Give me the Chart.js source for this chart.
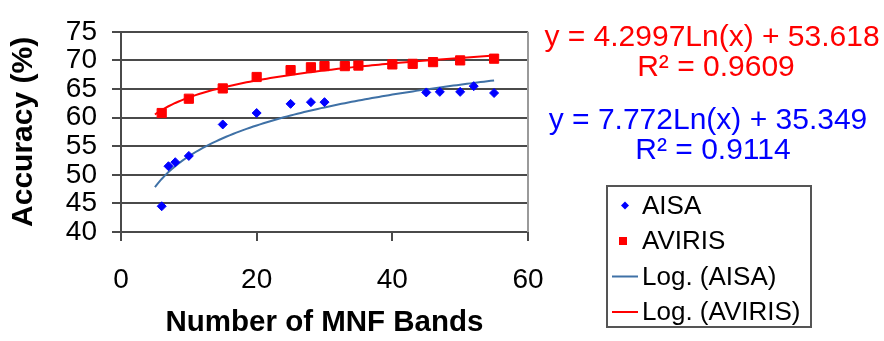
<!DOCTYPE html>
<html>
<head>
<meta charset="utf-8">
<script src="https://cdn.jsdelivr.net/npm/chart.js@4"></script>
<style>
  html, body { margin: 0; padding: 0; background: #fff; }
  #wrap { position: relative; width: 884px; height: 341px; }
</style>
</head>
<body>
<div id="wrap"><canvas id="accChart"></canvas></div>
<script>
// MNF band counts and classification accuracy for each sensor
const aisaBands = [6, 7, 8, 10, 15, 20, 25, 28, 30, 45, 47, 50, 52, 55];
const aisaAcc = [44.5, 51.5, 52.2, 53.3, 58.8, 60.8, 62.4, 62.7, 62.7, 64.4, 64.5, 64.5, 65.5, 64.3];

const avirisBands = [6, 10, 15, 20, 25, 28, 30, 33, 35, 40, 43, 46, 50, 55];
const avirisAcc = [60.8, 63.3, 65.1, 67.1, 68.3, 68.8, 69.0, 69.0, 69.1, 69.3, 69.4, 69.7, 70.0, 70.3];

// log trendline coefficients: y = a*ln(x) + b
const aisaFit = { a: 7.772, b: 35.349, r2: "0.9114" };
const avirisFit = { a: 4.2997, b: 53.618, r2: "0.9609" };
const trendFrom = 5, trendTo = 55;

const yTicks = [40, 45, 50, 55, 60, 65, 70, 75];
const xTicks = [0, 20, 40, 60];

const FONT = "'Liberation Sans', Arial, sans-serif";
const BLUE = "#0000ff";
const RED = "#ff0000";
const TREND_BLUE = "#3f71a6";
const GRID = "#4a4a4a";

function trendPoints(fit) {
  const pts = [];
  for (let x = trendFrom; x <= trendTo + 1e-9; x += 0.5) {
    pts.push({ x: x, y: fit.a * Math.log(x) + fit.b });
  }
  return pts;
}

function toPoints(xs, ys) {
  return xs.map((x, i) => ({ x: x, y: ys[i] }));
}

// equations, plot border and legend box are drawn on top of the chart
const extras = {
  id: "extras",
  afterDraw(chart) {
    const ctx = chart.ctx;
    const area = chart.chartArea;
    ctx.save();

    // right edge of plot area
    ctx.strokeStyle = "#9a9a9a";
    ctx.lineWidth = 2;
    ctx.beginPath();
    ctx.moveTo(area.right, area.top);
    ctx.lineTo(area.right, area.bottom);
    ctx.stroke();

    // trendline equations
    ctx.textAlign = "center";
    ctx.textBaseline = "middle";
    ctx.font = "30px " + FONT;
    ctx.fillStyle = RED;
    ctx.fillText("y = " + avirisFit.a + "Ln(x) + " + avirisFit.b, 712, 38);
    ctx.fillText("R\u00b2 = " + avirisFit.r2, 716, 68);
    ctx.fillStyle = BLUE;
    ctx.fillText("y = " + aisaFit.a + "Ln(x) + " + aisaFit.b, 708, 121);
    ctx.fillText("R\u00b2 = " + aisaFit.r2, 713, 151);

    // legend
    ctx.strokeStyle = "#555";
    ctx.lineWidth = 2;
    ctx.strokeRect(607, 186, 204, 141);
    const rows = [205.5, 241, 276.5, 312];
    const labels = ["AISA", "AVIRIS", "Log. (AISA)", "Log. (AVIRIS)"];

    ctx.fillStyle = BLUE;
    ctx.beginPath();
    ctx.moveTo(625, rows[0] - 4);
    ctx.lineTo(629, rows[0]);
    ctx.lineTo(625, rows[0] + 4);
    ctx.lineTo(621, rows[0]);
    ctx.closePath();
    ctx.fill();

    ctx.fillStyle = RED;
    ctx.fillRect(619, rows[1] - 4, 8, 8);

    ctx.lineWidth = 2;
    ctx.strokeStyle = TREND_BLUE;
    ctx.beginPath();
    ctx.moveTo(612, rows[2]);
    ctx.lineTo(638, rows[2]);
    ctx.stroke();
    ctx.strokeStyle = RED;
    ctx.beginPath();
    ctx.moveTo(612, rows[3]);
    ctx.lineTo(638, rows[3]);
    ctx.stroke();

    ctx.fillStyle = "#000";
    ctx.textAlign = "left";
    ctx.font = "26px " + FONT;
    labels.forEach((t, i) => ctx.fillText(t, 642, rows[i] + 1));

    ctx.restore();
  }
};

const ctx = document.getElementById("accChart").getContext("2d");
const accChart = new Chart(ctx, {
  type: "scatter",
  data: {
    datasets: [
      {
        label: "AISA",
        data: toPoints(aisaBands, aisaAcc),
        pointStyle: "rectRot",
        pointRadius: 4.5,
        backgroundColor: BLUE,
        borderColor: BLUE,
        borderWidth: 1
      },
      {
        label: "AVIRIS",
        data: toPoints(avirisBands, avirisAcc),
        pointStyle: "rect",
        pointRadius: 6.5,
        backgroundColor: RED,
        borderColor: RED,
        borderWidth: 1
      },
      {
        label: "Log. (AISA)",
        type: "line",
        data: trendPoints(aisaFit),
        showLine: true,
        pointRadius: 0,
        borderColor: TREND_BLUE,
        borderWidth: 2,
        fill: false
      },
      {
        label: "Log. (AVIRIS)",
        type: "line",
        data: trendPoints(avirisFit),
        showLine: true,
        pointRadius: 0,
        borderColor: RED,
        borderWidth: 2,
        fill: false
      }
    ]
  },
  options: {
    responsive: true,
    maintainAspectRatio: false,
    animation: false,
    layout: { padding: { left: 0, top: 25, right: 356, bottom: 0 } },
    plugins: {
      legend: { display: false },
      tooltip: { enabled: false }
    },
    scales: {
      x: {
        type: "linear",
        min: 0,
        max: 60,
        afterBuildTicks(scale) { scale.ticks = xTicks.map(v => ({ value: v })); },
        afterFit(scale) { scale.height = 109; },
        border: { color: GRID, width: 2 },
        grid: { drawOnChartArea: false, drawTicks: true, tickLength: 9, color: GRID, lineWidth: 2 },
        ticks: { color: "#000", padding: 22, font: { family: FONT, size: 28 } },
        title: {
          display: true,
          text: "Number of MNF Bands",
          color: "#000",
          font: { family: FONT, size: 29.5, weight: "bold" },
          padding: { top: 0, bottom: 0 }
        }
      },
      y: {
        type: "linear",
        min: 40,
        max: 75,
        afterBuildTicks(scale) { scale.ticks = yTicks.map(v => ({ value: v })); },
        afterFit(scale) { scale.width = 121; },
        border: { color: GRID, width: 2 },
        grid: { color: GRID, lineWidth: 2, tickLength: 9 },
        ticks: { color: "#000", padding: 15, autoSkip: false, font: { family: FONT, size: 28 } },
        title: {
          display: true,
          text: "Accuracy (%)",
          color: "#000",
          font: { family: FONT, size: 30, weight: "bold" },
          padding: { top: 6, bottom: 0 }
        }
      }
    }
  },
  plugins: [extras]
});
</script>
</body>
</html>
